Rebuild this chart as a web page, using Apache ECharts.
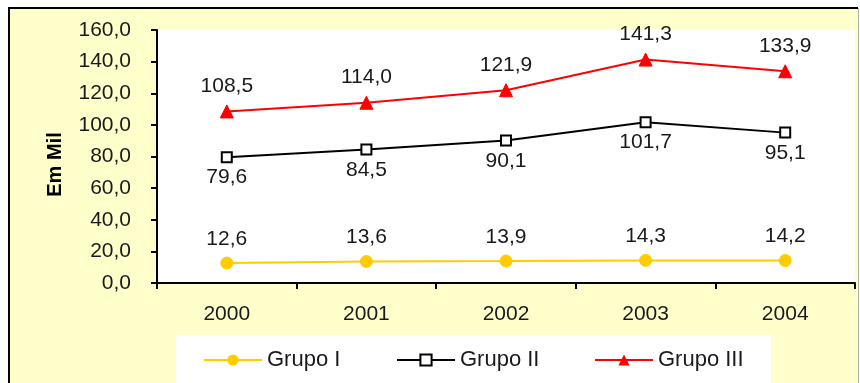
<!DOCTYPE html>
<html>
<head>
<meta charset="utf-8">
<script src="https://cdn.jsdelivr.net/npm/echarts@6/dist/echarts.min.js"></script>
<style>
  html, body { margin: 0; padding: 0; background: #ffffff; }
  #chart { width: 860px; height: 383px; }
</style>
</head>
<body>
<div id="chart"></div>
<script>
// Yearly values, in thousands
const years = ['2000', '2001', '2002', '2003', '2004'];
const grupoI = [12.6, 13.6, 13.9, 14.3, 14.2];
const grupoII = [79.6, 84.5, 90.1, 101.7, 95.1];
const grupoIII = [108.5, 114.0, 121.9, 141.3, 133.9];
const seriesNames = ['Grupo I', 'Grupo II', 'Grupo III'];

const FONT = '"Liberation Sans", Arial, sans-serif';
const fmt = v => v.toFixed(1).replace('.', ',');

const chart = echarts.init(document.getElementById('chart'));

const labelStyle = {
  show: true,
  fontFamily: FONT,
  fontSize: 21,
  color: '#1a1a1a',
  formatter: p => fmt(p.value)
};

chart.setOption({
  backgroundColor: '#ffffff',
  animation: false,
  graphic: [
    { type: 'rect', z: -20, shape: { x: 9, y: 8, width: 849, height: 390 },
      style: { fill: '#FFFFCC' } },
    { type: 'line', z: 10, shape: { x1: 8, y1: 8, x2: 858, y2: 8 },
      style: { stroke: '#000000', lineWidth: 2 } },
    { type: 'line', z: 10, shape: { x1: 9, y1: 8, x2: 9, y2: 383 },
      style: { stroke: '#000000', lineWidth: 2 } },
    { type: 'line', z: 10, shape: { x1: 858.5, y1: 8, x2: 858.5, y2: 383 },
      style: { stroke: '#b0b0b0', lineWidth: 1 } },
    { type: 'rect', z: 1, shape: { x: 176, y: 335, width: 595, height: 60 },
      style: { fill: '#ffffff' } }
  ],
  grid: {
    left: 157, right: 5, top: 30, bottom: 100,
    show: true, backgroundColor: '#ffffff', borderWidth: 0
  },
  legend: [
    { data: [seriesNames[0]], left: 203 },
    { data: [seriesNames[1]], left: 396 },
    { data: [seriesNames[2]], left: 594 }
  ].map(l => Object.assign(l, {
    top: 349, padding: 0,
    itemWidth: 58, itemHeight: 14, itemGap: 6, z: 5,
    textStyle: { fontFamily: FONT, fontSize: 22, color: '#1a1a1a' }
  })),
  xAxis: {
    type: 'category',
    data: years,
    boundaryGap: true,
    axisLine: { lineStyle: { color: '#000000', width: 2 } },
    axisTick: { show: true, length: 6, inside: false, lineStyle: { color: '#000000', width: 2 } },
    axisLabel: { fontFamily: FONT, fontSize: 21, color: '#1a1a1a', margin: 21 },
    splitLine: { show: false }
  },
  yAxis: {
    type: 'value',
    min: 0, max: 160, interval: 20,
    name: 'Em Mil',
    nameLocation: 'middle',
    nameGap: 92,
    nameRotate: 90,
    nameTextStyle: { fontFamily: FONT, fontSize: 20, fontWeight: 'bold', color: '#000000',
      padding: [0, 16, 0, 0] },
    axisLine: { show: true, lineStyle: { color: '#000000', width: 2 } },
    axisTick: { show: true, length: 6, lineStyle: { color: '#000000', width: 2 } },
    axisLabel: { fontFamily: FONT, fontSize: 21, color: '#1a1a1a', margin: 26,
      formatter: v => fmt(v) },
    splitLine: { show: false }
  },
  series: [
    {
      name: seriesNames[0], type: 'line', data: grupoI,
      symbol: 'circle', symbolSize: 12,
      lineStyle: { color: '#FFCC00', width: 2 },
      itemStyle: { color: '#FFCC00', borderColor: '#FFCC00' },
      label: Object.assign({}, labelStyle, { position: 'top', distance: 7 })
    },
    {
      name: seriesNames[1], type: 'line', data: grupoII,
      symbol: 'rect', symbolSize: 10,
      lineStyle: { color: '#000000', width: 2 },
      itemStyle: { color: '#ffffff', borderColor: '#000000', borderWidth: 2 },
      label: Object.assign({}, labelStyle, { position: 'bottom', distance: 4 })
    },
    {
      name: seriesNames[2], type: 'line', data: grupoIII,
      symbol: 'triangle', symbolSize: 13,
      lineStyle: { color: '#FF0000', width: 2 },
      itemStyle: { color: '#FF0000', borderColor: '#FF0000' },
      label: Object.assign({}, labelStyle, { position: 'top', distance: 8 })
    }
  ]
});
</script>
</body>
</html>
